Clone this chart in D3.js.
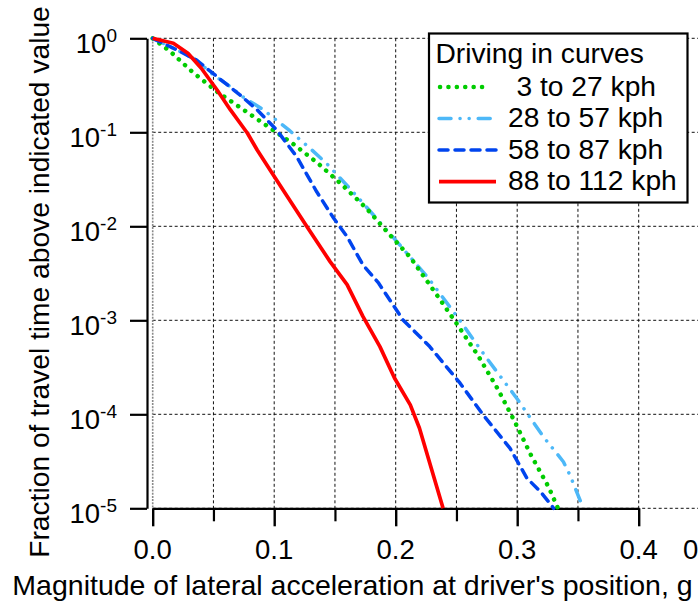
<!DOCTYPE html>
<html>
<head>
<meta charset="utf-8">
<script src="https://cdn.jsdelivr.net/npm/d3@7/dist/d3.min.js"></script>
<style>
  html, body { margin: 0; padding: 0; background: #fff; }
  svg { display: block; font-family: "Liberation Sans", Arial, Helvetica, sans-serif; }
</style>
</head>
<body>
<svg id="chart" width="698" height="607"></svg>
<script>
// ---- data ----
const seriesNames = ["3 to 27 kph", "28 to 57 kph", "58 to 87 kph", "88 to 112 kph"];
const legendTitle = "Driving in curves";
const xTicks = [0.0, 0.1, 0.2, 0.3, 0.4];
const xMinorTicks = [0.05, 0.15, 0.25, 0.35];
const xGrid = [0, 0.05, 0.1, 0.15, 0.2, 0.25, 0.3, 0.35, 0.4];
const yTicks = [1, 1e-1, 1e-2, 1e-3, 1e-4, 1e-5];
const yTickExp = ["0", "-1", "-2", "-3", "-4", "-5"];

const accelLow = [0, 0.014, 0.033, 0.054, 0.075, 0.095, 0.116, 0.136, 0.156, 0.176, 0.194, 0.212, 0.231, 0.250, 0.268, 0.284, 0.298, 0.311, 0.326, 0.3335];
const fracLow  = [1, 0.733, 0.435, 0.264, 0.173, 0.115, 0.0745, 0.0468, 0.0275, 0.0155, 0.00843, 0.00468, 0.00210, 0.000929, 0.000417, 0.000186, 8.34e-5, 3.75e-5, 1.67e-5, 1e-5];

const accelMid1 = [0, 0.020, 0.036, 0.050, 0.064, 0.074, 0.0905, 0.112, 0.1295, 0.143, 0.162, 0.172, 0.201, 0.227, 0.2515, 0.275, 0.2996, 0.3215, 0.338, 0.3434, 0.3544];
const fracMid1  = [1, 0.752, 0.587, 0.407, 0.305, 0.239, 0.176, 0.106, 0.0676, 0.0468, 0.0254, 0.0183, 0.00686, 0.00280, 0.00105, 0.000394, 0.000148, 5.78e-5, 3.13e-5, 2.26e-5, 1e-5];

const accelMid2 = [0, 0.020, 0.036, 0.053, 0.072, 0.086, 0.102, 0.1185, 0.135, 0.149, 0.160, 0.173, 0.186, 0.206, 0.228, 0.253, 0.272, 0.294, 0.308, 0.319, 0.330];
const fracMid2  = [1, 0.752, 0.587, 0.390, 0.249, 0.173, 0.106, 0.0550, 0.0233, 0.01216, 0.00776, 0.00389, 0.00248, 0.00101, 0.000525, 0.000214, 9.84e-5, 4.37e-5, 2.09e-5, 1.51e-5, 1e-5];

const accelHigh = [0, 0.017, 0.029, 0.040, 0.053, 0.064, 0.078, 0.086, 0.101, 0.127, 0.146, 0.160, 0.173, 0.187, 0.199, 0.212, 0.2195, 0.239];
const fracHigh  = [1, 0.885, 0.692, 0.480, 0.282, 0.173, 0.0977, 0.0648, 0.0324, 0.00991, 0.00421, 0.00240, 0.00110, 0.000525, 0.000243, 0.000126, 7.15e-5, 1e-5];

// ---- styles ----
const styles = [
  { color: "#00cc00", width: 4.5, dash: "0.1,8.3", cap: "round" },
  { color: "#4db8f8", width: 3.5, dash: "12,9,0.1,9,0.1,9", cap: "round" },
  { color: "#0044ee", width: 3.5, dash: "9,7", cap: "round" },
  { color: "#ff0000", width: 3.7, dash: null, cap: "butt" }
];
const seriesData = [
  d3.zip(accelLow, fracLow),
  d3.zip(accelMid1, fracMid1),
  d3.zip(accelMid2, fracMid2),
  d3.zip(accelHigh, fracHigh)
];

const svg = d3.select("#chart");
const x = d3.scaleLinear().domain([0, 0.4]).range([152.7, 638.7]);
const y = d3.scaleLog().domain([1e-5, 1]).range([508.3, 38.3]);
const plotRight = 698;

// ---- grid ----
const grid = svg.append("g");
grid.selectAll("line.h").data(yTicks).join("line")
  .attr("x1", x(0)).attr("x2", plotRight)
  .attr("y1", d => y(d)).attr("y2", d => y(d))
  .attr("stroke", "#111").attr("stroke-width", 1).attr("stroke-dasharray", "3,2.5");
grid.selectAll("line.v").data(xGrid).join("line")
  .attr("x1", d => x(d)).attr("x2", d => x(d))
  .attr("y1", y(1)).attr("y2", y(1e-5))
  .attr("stroke", d => d === 0 ? "#8a8a8a" : "#111")
  .attr("stroke-width", d => d === 0 ? 1.6 : 1)
  .attr("stroke-dasharray", d => d === 0 ? "2,1.2" : "3,2.5");

// ---- axes ----
const yAxis = svg.append("g").attr("transform", "translate(147,0)")
  .call(d3.axisLeft(y).tickValues(yTicks).tickSize(17).tickSizeOuter(0).tickFormat(""));
yAxis.selectAll("path.domain").attr("stroke-width", 2.2);
yAxis.selectAll(".tick line").attr("stroke-width", 2.2);

const xAxis = svg.append("g").attr("transform", `translate(0,${y(1e-5)})`)
  .call(d3.axisBottom(x).tickValues(xTicks).tickSize(18).tickSizeOuter(0).tickFormat(""));
xAxis.selectAll("path.domain").attr("stroke-width", 2.2);
xAxis.selectAll(".tick line").attr("stroke-width", 2.4);
const xMinor = svg.append("g").attr("transform", `translate(0,${y(1e-5)})`)
  .call(d3.axisBottom(x).tickValues(xMinorTicks).tickSize(13).tickSizeOuter(0).tickFormat(""));
xMinor.select("path.domain").remove();
xMinor.selectAll(".tick line").attr("stroke-width", 2.2);

// y tick labels with superscripts
const yl = svg.append("g");
yTicks.forEach((t, i) => {
  const tx = yl.append("text").attr("x", 117).attr("y", y(t) + 15)
    .attr("text-anchor", "end").attr("font-size", 27.5).attr("fill", "#000");
  tx.append("tspan").text("10");
  tx.append("tspan").attr("dy", -11).attr("font-size", 19).text(yTickExp[i]);
});

// x tick labels
svg.append("g").selectAll("text").data(xTicks).join("text")
  .attr("x", d => x(d)).attr("y", 559)
  .attr("text-anchor", "middle").attr("font-size", 27.5)
  .text(d => d3.format(".1f")(d));
svg.append("text").attr("x", 683).attr("y", 559).attr("font-size", 27.5).text("0");

// axis titles
svg.append("text").attr("x", 352.5).attr("y", 595).attr("text-anchor", "middle")
  .attr("font-size", 28.5).text("Magnitude of lateral acceleration at driver's position, g");
svg.append("text").attr("transform", "translate(49,282) rotate(-90)")
  .attr("text-anchor", "middle").attr("font-size", 28.2)
  .text("Fraction of travel time above indicated value");

// ---- series ----
const line = d3.line().x(d => x(d[0])).y(d => y(d[1]));
const drawOrder = [1, 0, 2, 3];
drawOrder.forEach(i => {
  const s = styles[i];
  svg.append("path").datum(seriesData[i])
    .attr("d", line).attr("fill", "none")
    .attr("stroke", s.color).attr("stroke-width", s.width)
    .attr("stroke-linecap", s.cap).attr("stroke-linejoin", "round")
    .attr("stroke-dasharray", s.dash);
});

// ---- legend ----
const lg = svg.append("g");
lg.append("rect").attr("x", 429).attr("y", 33.5).attr("width", 258.5).attr("height", 169)
  .attr("fill", "#fff").attr("stroke", "#000").attr("stroke-width", 2.2);
lg.append("text").attr("x", 435.5).attr("y", 63).attr("font-size", 28.2).text(legendTitle);
const rowY = [87, 118.5, 150, 181.7];
const textX = [516.5, 508, 508, 508];
seriesNames.forEach((name, i) => {
  const s = styles[i];
  lg.append("line").attr("x1", i === 0 ? 440 : 439).attr("x2", i === 0 ? 489 : 496)
    .attr("y1", rowY[i]).attr("y2", rowY[i])
    .attr("stroke", s.color).attr("stroke-width", s.width)
    .attr("stroke-linecap", s.cap).attr("stroke-dasharray", s.dash);
  lg.append("text").attr("x", textX[i]).attr("y", rowY[i] + 8.5)
    .attr("font-size", 28.2).text(name);
});
</script>
</body>
</html>
